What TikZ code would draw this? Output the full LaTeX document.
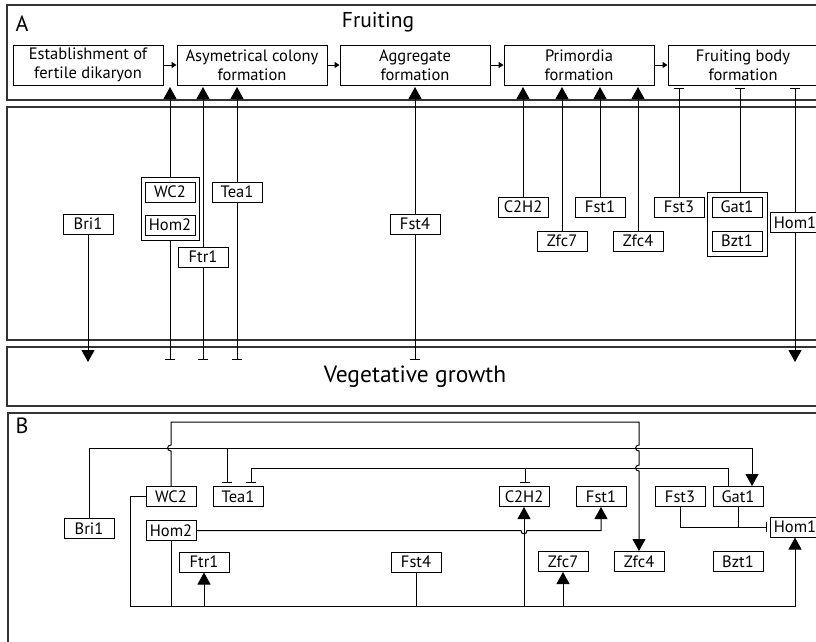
\documentclass[tikz,border=0pt]{standalone}
\usepackage{fontspec}
\setmainfont{PT Sans}
\usetikzlibrary{arrows.meta}
\begin{document}
\begin{tikzpicture}[x=1pt,y=-1pt,
  frame/.style={draw=black!80, line width=1.5pt},
  gene/.style={draw, line width=1pt, minimum width=50pt, minimum height=20pt,
    inner sep=0pt, font=\fontsize{16.5}{17}\selectfont},
  stage/.style={draw, line width=1pt, minimum width=150pt, minimum height=40pt,
    inner sep=0pt, align=center, font=\fontsize{16.5}{19}\selectfont},
  grp/.style={draw, line width=1pt, inner sep=0pt},
  link/.style={line width=1pt},
  act/.style={link, -{Triangle[length=12pt,width=13pt]}},
  inh/.style={link, -{Bar[width=10pt]}},
  flow/.style={link, -{Triangle[length=5pt,width=6pt]}},
  big/.style={font=\fontsize{22}{22}\selectfont}
]
\useasboundingbox (0,0) rectangle (816,641);
\clip (0,0) rectangle (816,641);

% ---------- panel frames ----------
\draw[frame] (7,5) rectangle (830,100);
\draw[frame] (7,107) rectangle (830,340);
\draw[frame] (7,347) rectangle (830,406);
\draw[frame] (8,413) rectangle (830,660);

\node[big] (labA) at (22,24) {A};
\node[font=\fontsize{21.5}{21.5}\selectfont] (title) at (378,22) {Fruiting};
\node[font=\fontsize{23.5}{23.5}\selectfont] (veg) at (415,377) {Vegetative growth};
\node[big] (labB) at (22,426) {B};

% ---------- developmental stages ----------
\node[stage] (s1) at (88,65)  {Establishment of\\fertile dikaryon};
\node[stage] (s2) at (252,65) {Asymetrical colony\\formation};
\node[stage] (s3) at (415,65) {Aggregate\\formation};
\node[stage] (s4) at (579,65) {Primordia\\formation};
\node[stage] (s5) at (743,65) {Fruiting body\\formation};
\draw[flow] (s1) -- (s2);
\draw[flow] (s2) -- (s3);
\draw[flow] (s3) -- (s4);
\draw[flow] (s4) -- (s5);

% ---------- panel A regulators ----------
\node[grp, minimum width=58pt, minimum height=63pt] (aGrp1) at (170,208.5) {};
\node[gene] (aWC2)  at (170,192) {WC2};
\node[gene] (aHom2) at (170,225) {Hom2};
\node[gene] (aBri1) at (88,224)  {Bri1};
\node[gene] (aTea1) at (237,192) {Tea1};
\node[gene] (aFtr1) at (203,257) {Ftr1};
\node[gene] (aFst4) at (415,224) {Fst4};
\node[gene] (aC2H2) at (523,207) {C2H2};
\node[gene] (aZfc7) at (562,241) {Zfc7};
\node[gene] (aFst1) at (600,207) {Fst1};
\node[gene] (aZfc4) at (638,241) {Zfc4};
\node[gene] (aFst3) at (679,207) {Fst3};
\node[grp, minimum width=60pt, minimum height=64pt] (aGrp2) at (737,224) {};
\node[gene] (aGat1) at (737,207) {Gat1};
\node[gene] (aBzt1) at (737,241) {Bzt1};
\node[gene] (aHom1) at (795,222.5) {Hom1};

\coordinate (upTip) at (0,87);
\coordinate (upBar) at (0,88);
\coordinate (dnTip) at (0,362);
\coordinate (dnBar) at (0,360);

\draw[act] (aBri1.south) -- (aBri1.south |- dnTip);
\draw[act] (aGrp1.north) -- (aGrp1.north |- upTip);
\draw[inh] (aGrp1.south) -- (aGrp1.south |- dnBar);
\draw[act] (aFtr1.north) -- (aFtr1.north |- upTip);
\draw[inh] (aFtr1.south) -- (aFtr1.south |- dnBar);
\draw[act] (aTea1.north) -- (aTea1.north |- upTip);
\draw[inh] (aTea1.south) -- (aTea1.south |- dnBar);
\draw[act] (aFst4.north) -- (aFst4.north |- upTip);
\draw[inh] (aFst4.south) -- (aFst4.south |- dnBar);
\draw[act] (aC2H2.north) -- (aC2H2.north |- upTip);
\draw[act] (aZfc7.north) -- (aZfc7.north |- upTip);
\draw[act] (aFst1.north) -- (aFst1.north |- upTip);
\draw[act] (aZfc4.north) -- (aZfc4.north |- upTip);
\draw[inh] (aFst3.north) -- (aFst3.north |- upBar);
\draw[inh] ([xshift=3pt]aGrp2.north) -- ([xshift=3pt]aGrp2.north |- upBar);
\draw[inh] (aHom1.north) -- (aHom1.north |- upBar);
\draw[act] (aHom1.south) -- (aHom1.south |- dnTip);

% ---------- panel B network ----------
\node[gene] (bWC2)  at (171,496.5) {WC2};
\node[gene] (bTea1) at (238,496.5) {Tea1};
\node[gene] (bBri1) at (89,528.5)  {Bri1};
\node[gene] (bHom2) at (171,530.5) {Hom2};
\node[gene] (bFtr1) at (204,562)   {Ftr1};
\node[gene] (bFst4) at (416,562)   {Fst4};
\node[gene] (bC2H2) at (524,496.5) {C2H2};
\node[gene] (bFst1) at (601,496.5) {Fst1};
\node[gene] (bFst3) at (680,496.5) {Fst3};
\node[gene] (bGat1) at (738,496.5) {Gat1};
\node[gene] (bHom1) at (795,527)   {Hom1};
\node[gene] (bZfc7) at (563,561.5) {Zfc7};
\node[gene] (bZfc4) at (639,561.5) {Zfc4};
\node[gene] (bBzt1) at (738,561.5) {Bzt1};

\coordinate (busA) at (0,422);
\coordinate (busB) at (0,448);
\coordinate (busC) at (0,468);
\coordinate (busD) at (0,606);

% WC2 -> Zfc4, hopping over the two lower lines
\draw[act] (bWC2.north) -- (171,451) .. controls (166.5,451) and (166.5,445) .. (171,445)
  |- (639,422) -- (639,445) .. controls (634.5,445) and (634.5,451) .. (639,451)
  -- (639,465) .. controls (634.5,465) and (634.5,471) .. (639,471) -- (bZfc4.north);

% Bri1 -> Gat1, Bri1 -| Tea1
\draw[act] (bBri1.north) |- ([xshift=14pt]bGat1.north |- busB) -- ([xshift=14pt]bGat1.north);
\draw[inh] ([xshift=-11pt]bTea1.north |- busB) -- ([xshift=-11pt,yshift=3pt]bTea1.north);

% Gat1 -| Tea1, Gat1 -| C2H2
\draw[inh] ([xshift=-10pt]bGat1.north) |- ([xshift=13pt]bTea1.north |- busC)
  -- ([xshift=13pt,yshift=3pt]bTea1.north);
\draw[inh] ([xshift=1pt]bC2H2.north |- busC) -- ([xshift=1pt,yshift=3pt]bC2H2.north);

% Hom2 -> Fst1, hopping over the C2H2 line
\draw[act] (bHom2.east) -- (521,530.5) .. controls (521,535) and (527,535) .. (527,530.5)
  -| (bFst1.south);

% common activation bus
\draw[act] (bWC2.west) -| (130,606) -| (bHom1.south);
\draw[link] (bHom2.south) -- (bHom2.south |- busD);
\draw[link] (bFst4.south) -- (bFst4.south |- busD);
\draw[act] (bFtr1.south |- busD) -- (bFtr1.south);
\draw[act] (bC2H2.south |- busD) -- (bC2H2.south);
\draw[act] (bZfc7.south |- busD) -- (bZfc7.south);

% Fst3 and Gat1 -| Hom1
\draw[inh] (bFst3.south) |- ([xshift=-3pt]bHom1.west);
\draw[link] (bGat1.south) -- (bGat1.south |- bHom1.west);
\end{tikzpicture}
\end{document}
